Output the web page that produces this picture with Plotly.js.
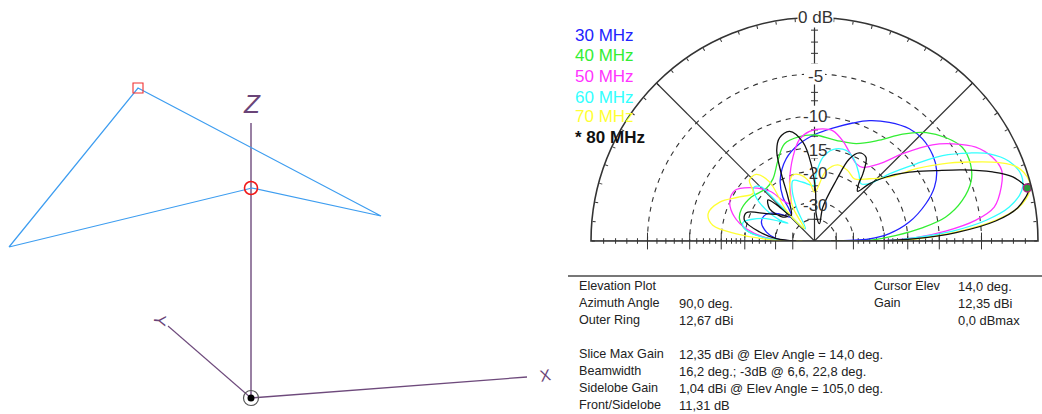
<!DOCTYPE html>
<html><head><meta charset="utf-8">
<script src="https://cdn.plot.ly/plotly-3.0.1.min.js"></script>
<style>html,body{margin:0;padding:0;background:#fff}#c{width:1042px;height:414px}</style>
</head><body><div id="c"></div>
<script>
// ---- elevation pattern data: elevation angle (deg), gain (dB relative to outer ring)
const elev30=[0,2.1,5.6,11.3,18.5,24.2,30,35.9,43.4,49.8,57.8,65.5,72,80.8,89,98.8,109,119.5,125.7,129,134,143,151,160,169.5,176.5,180];
const gain30=[-45,-24.1,-18.7,-14.4,-11.05,-9.1,-7.9,-7.3,-7,-7.2,-8,-9,-10.1,-11.5,-12.6,-14.1,-16.2,-20,-24.3,-29.7,-32.7,-27.3,-24,-23.6,-26.1,-30.3,-40];
const elev40=[0,0.7,4,7,10.3,15.3,21.1,26.3,32.4,38.3,44.1,50.5,57.3,66.8,77.9,90,98.2,107.1,114.4,123.8,132.7,145.2,156.2,163.4,171.1,175.6,180];
const gain40=[-45,-24.1,-17.2,-12.4,-8.9,-6.5,-4.9,-4.3,-4.2,-5,-6.2,-8.2,-10.7,-12.8,-13.3,-12.8,-12.9,-13.5,-15.9,-18.8,-19.6,-18.3,-17.7,-18,-20.2,-25.2,-35.5];
const elev50=[0,0.5,1.9,4.3,7.3,10.7,16.1,20.7,25.2,30.2,35.1,39.2,44.7,50,56.8,61.9,68.5,74.3,80.5,85.8,92.6,98.3,104.5,112.4,123.1,127.9,132,140.6,147.6,155.4,163.3,169.8,177,180];
const gain50=[-45,-19.5,-13.6,-9.1,-5.5,-3.44,-2.4,-1.9,-2.2,-3.1,-4.8,-6.6,-10.1,-13.7,-16,-16,-14.6,-13.1,-11.9,-11.8,-12.2,-13.3,-16.3,-21.1,-27.7,-25.2,-20.6,-16.8,-14.8,-15,-16.9,-20.1,-27.5,-43];
const elev60=[0,0.3,1.9,4.1,6.9,9.9,13.7,17.6,22.3,26.5,29.6,33.7,37.2,41.9,45.7,50.9,56.6,63.6,70.7,78.7,84.3,88.6,90.7,101.2,109.6,113.8,118.6,127,134,134.5,138.5,143.2,147.3,149,146.4,156.3,165.7,170.9,176,180];
const gain60=[-45,-19.5,-13.6,-8.2,-4.4,-2.1,-0.8,-0.5,-1.05,-2.3,-3.9,-6.4,-9.6,-13.7,-17.4,-19,-17.5,-15.6,-14.5,-15,-16.8,-20.6,-23.9,-22.6,-21.4,-24,-31,-46,-20.8,-18.5,-17.4,-19.2,-23.4,-29.3,-33.4,-23.7,-19,-20.1,-25.2,-35.5];
const elev70=[0,0.2,1.1,3.6,6.5,9.4,13.2,15.8,20,23,27,31.1,35.4,40.5,48.6,57.3,64.7,73,80.6,90,94.8,102.7,108.8,116.3,123,129,132.7,127.3,131.2,137,142,149.6,157.7,165.6,171.2,174.7,179,180];
const gain70=[-45,-19.5,-13.6,-7.8,-3.5,-1.3,-0.18,-0.05,-0.6,-1.85,-4.3,-6.9,-10,-14.1,-17,-19,-18.1,-17.7,-19.6,-26.1,-22.8,-20.4,-20.1,-23.7,-30.1,-45,-28.9,-18.9,-15.9,-15.8,-18.1,-16.2,-13.4,-12.2,-13.3,-18,-30.3,-50];
const elev80=[0,0.3,1.3,3.4,6.3,9.3,13.3,14,17.9,21.2,25.7,30.1,36,41.8,46.2,49.1,52.3,54.3,58.4,63,67,70.3,76.2,74,86.5,88.9,92.5,96.7,102.8,108.6,112.6,116.3,121.2,132.3,136.3,138.5,144.3,142.8,137.2,150.5,157.5,163.6,170.7,176.5,180];
const gain80=[-45,-19.5,-13.6,-7.8,-3.5,-1.4,-0.28,-0.32,-1.2,-2.7,-5.3,-8,-11.1,-14.5,-17.8,-21,-19.4,-17,-14.1,-14,-15.8,-21.4,-31.9,-43.2,-36.1,-25.5,-18.3,-13.9,-11.8,-12.3,-14.1,-18.8,-25.3,-32,-24.7,-22,-24,-29.7,-31.2,-23.9,-19,-19.2,-23.9,-30.3,-43];
const bandLabels=["30 MHz","40 MHz","50 MHz","60 MHz","70 MHz","* 80 MHz"];
const bandColors=["#2222ff","#33ee33","#ff33ff","#33ffff","#ffff33","#111111"];
const ringDb=[-5,-10,-15,-20,-30,-40];
const ringLabelDb=[-5,-10,-15,-20,-30];
const ringLabels=["-5","-10","-15","-20","-30"];
const spokes=[0,45,135,180];
const cursorElev=[14];
const cursorGain=[-0.32];
const minorDb=[-1,-2,-3,-4,-6,-7,-8,-9,-11,-12,-13,-14,-16,-17,-18,-19,-22,-24,-26,-28];
// ---- antenna wire view (view units, origin at the ground point)
const wireX=[-2.42,-1.13,1.30,0.01,-2.42];
const wireY=[1.51,3.10,1.82,2.10,1.51];
const zAxisX=[0,0]; const zAxisY=[0,2.75];
const yAxisX=[0,-0.83]; const yAxisY=[0,0.72];
const xAxisX=[0,2.76]; const xAxisY=[0,0.21];
const feedX=[0.0]; const feedY=[2.10];
const loadX=[-1.13]; const loadY=[3.10];
// ---- info panel
const panelLeft=[["Elevation Plot",""],["Azimuth Angle","90,0 deg."],["Outer Ring","12,67 dBi"],["",""],["Slice Max Gain","12,35 dBi @ Elev Angle = 14,0 deg."],["Beamwidth","16,2 deg.; -3dB @ 6,6, 22,8 deg."],["Sidelobe Gain","1,04 dBi @ Elev Angle = 105,0 deg."],["Front/Sidelobe","11,31 dB"]];
const panelRight=[["Cursor Elev","14,0 deg."],["Gain","12,35 dBi"],["","0,0 dBmax"]];

const arrl=db=>db.map(d=>Math.pow(0.89,-d/2));
const px=x=>x/1042, py=y=>1-y/414;
const FONT="Liberation Sans, Arial, sans-serif";
const traces=[];
const elevs=[elev30,elev40,elev50,elev60,elev70,elev80];
const gains=[gain30,gain40,gain50,gain60,gain70,gain80];
const wireLine={color:"#3d9df0",width:1.2};
const purple="#6e4a7c";
function cart(x,y,line){traces.push({type:"scatter",mode:"lines",x:x,y:y,line:line,hoverinfo:"skip",showlegend:false,xaxis:"x",yaxis:"y"});}
cart(zAxisX,zAxisY,{color:purple,width:1.4});
cart(yAxisX,yAxisY,{color:purple,width:1.1});
cart(xAxisX,xAxisY,{color:purple,width:1.3});
cart(wireX,wireY,wireLine);
traces.push({type:"scatter",mode:"markers",x:feedX,y:feedY,marker:{symbol:"circle-open",size:13,color:"#f01818",line:{width:1.6,color:"#f01818"}},showlegend:false,hoverinfo:"skip"});
traces.push({type:"scatter",mode:"markers",x:loadX,y:loadY,marker:{symbol:"square-open",size:10,color:"#f03030",line:{width:1.1,color:"#f03030"}},showlegend:false,hoverinfo:"skip"});
traces.push({type:"scatter",mode:"markers",x:[0],y:[0],marker:{symbol:"circle-open",size:15,color:"#555",line:{width:1.2,color:"#555"}},showlegend:false,hoverinfo:"skip"});
traces.push({type:"scatter",mode:"markers",x:[0],y:[0],marker:{symbol:"circle",size:7,color:"#000"},showlegend:false,hoverinfo:"skip"});
// polar frame
spokes.forEach(t=>traces.push({type:"scatterpolar",mode:"lines",theta:[t,t],r:[0,1],line:{color:"#333",width:1.2},hoverinfo:"skip",showlegend:false}));
traces.push({type:"scatterpolar",mode:"lines",theta:[90,90],r:[0,1],line:{color:"#333",width:1.2},hoverinfo:"skip",showlegend:false});
function axisTicks(theta,db,sym,size){traces.push({type:"scatterpolar",mode:"markers",theta:db.map(()=>theta),r:arrl(db),cliponaxis:false,marker:{symbol:sym,size:size,color:"#333",line:{color:"#333",width:1}},hoverinfo:"skip",showlegend:false});}
[0,180].forEach(t=>{axisTicks(t,minorDb,"line-ns",4);axisTicks(t,ringDb,"line-ns",12);});
axisTicks(90,minorDb,"line-ew",5);axisTicks(90,ringDb,"line-ew",10);
traces.push({type:"scatterpolar",mode:"markers",theta:ringLabelDb.map(()=>90),r:arrl(ringLabelDb),marker:{symbol:"square",size:21,color:"#fff"},hoverinfo:"skip",showlegend:false,cliponaxis:false});
elevs.forEach((e,i)=>traces.push({type:"scatterpolar",mode:"lines",name:bandLabels[i],theta:e,r:arrl(gains[i]),line:{color:bandColors[i],width:1.3,shape:"spline",smoothing:1,simplify:false},hoverinfo:"skip",showlegend:false,cliponaxis:false}));
traces.push({type:"scatterpolar",mode:"markers",theta:cursorElev,r:arrl(cursorGain),cliponaxis:false,marker:{symbol:"circle",size:8,color:"#2a9a3a",line:{color:"#b0208a",width:1.4}},hoverinfo:"skip",showlegend:false});

const anns=[];
function note(x,y,text,o){anns.push(Object.assign({xref:"paper",yref:"paper",x:px(x),y:py(y),text:text,showarrow:false,xanchor:"left",yanchor:"middle",borderpad:0,font:{family:FONT,size:12.6,color:"#222"}},o||{}));}
const legY=[35,56,76,97,117,138];
bandLabels.forEach((t,i)=>note(574,legY[i],i==5?"<b>"+t+"</b>":t,{font:{family:FONT,size:17,color:bandColors[i]}}));
note(815,18,"0 dB",{xanchor:"center",bgcolor:"#fff",font:{family:FONT,size:17,color:"#333"}});
const labelY=[76,117,150,173,205];
ringLabels.forEach((t,i)=>note(815,labelY[i],t,{xanchor:"center",font:{family:FONT,size:17,color:"#333"}}));
const rowY=[286,303,320,337,354,371,388,405];
const valFont={font:{family:FONT,size:12.9,color:"#222"}};
panelLeft.forEach((r,i)=>{if(r[0])note(578,rowY[i],r[0]);if(r[1])note(678,rowY[i],r[1],valFont);});
panelRight.forEach((r,i)=>{if(r[0])note(873,rowY[i],r[0]);note(957,rowY[i],r[1],valFont);});
note(252,104,"<i>Z</i>",{xanchor:"center",font:{family:FONT,size:26,color:"#6a4478"}});
note(160,320,"Y",{xanchor:"center",textangle:95,font:{family:FONT,size:17,color:"#6a4478"}});
note(545,375,"X",{xanchor:"center",textangle:-10,font:{family:FONT,size:16,color:"#6a4478"}});

const layout={width:1042,height:414,margin:{l:0,r:0,t:0,b:0},paper_bgcolor:"#fff",plot_bgcolor:"rgba(0,0,0,0)",showlegend:false,
 xaxis:{visible:false,range:[-2.51,7.91],domain:[0,1],fixedrange:true},
 yaxis:{visible:false,range:[-0.16,3.98],domain:[0,1],fixedrange:true},
 polar:{domain:{x:[px(591),px(1038)],y:[py(241),py(17.5)]},sector:[0,180],bgcolor:"rgba(0,0,0,0)",
  radialaxis:{range:[0,1],angle:0,showline:false,ticks:"",showticklabels:false,tickvals:arrl(ringDb),showgrid:true,gridcolor:"#333",griddash:"5px,5px",gridwidth:1.1},
  angularaxis:{direction:"counterclockwise",rotation:0,thetaunit:"degrees",showgrid:false,showticklabels:false,tickmode:"array",tickvals:Array.from({length:37},(_,i)=>i*5),ticks:"inside",ticklen:3,tickcolor:"#333",linecolor:"#333",linewidth:1.6,showline:true}},
 shapes:[{type:"line",xref:"paper",yref:"paper",x0:px(568),x1:1,y0:py(276),y1:py(276),line:{color:"#777",width:2}}],
 annotations:anns};
Plotly.newPlot("c",traces,layout,{staticPlot:true,displayModeBar:false});
</script></body></html>
